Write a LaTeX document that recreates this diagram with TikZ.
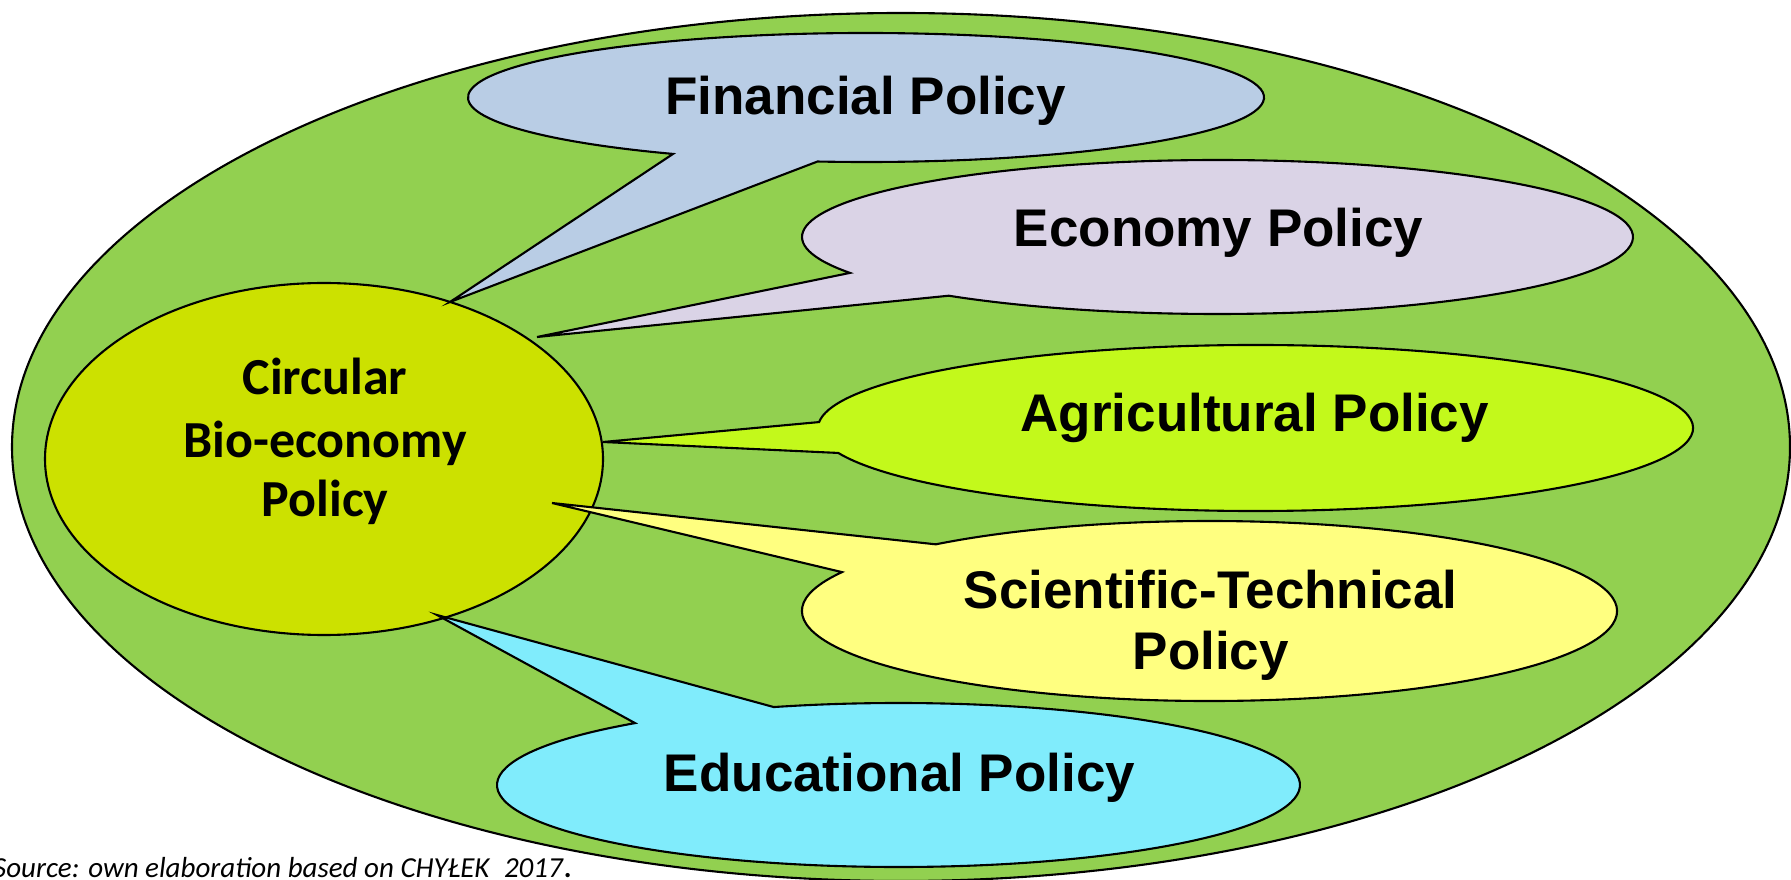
\documentclass[tikz,border=0pt]{standalone}
\usepackage{fontspec}
\setmainfont{Liberation Sans}
\newfontfamily\carlito{Carlito}
\usetikzlibrary{calc}
\definecolor{biggreen}{HTML}{92D050}
\definecolor{circcol}{HTML}{CCE100}
\definecolor{fincol}{HTML}{B9CDE5}
\definecolor{ecocol}{HTML}{DAD3E6}
\definecolor{agrcol}{HTML}{C3F91B}
\definecolor{scicol}{HTML}{FFFF80}
\definecolor{educol}{HTML}{80ECFC}
\begin{document}
\begin{tikzpicture}[x=1pt,y=1pt,
  shapeline/.style={draw=black, line width=2.1pt, line join=miter},
  lbl/.style={font=\fontsize{53}{61}\selectfont\bfseries, inner sep=0pt, anchor=base},
  clbl/.style={font=\carlito\fontsize{52}{61}\selectfont\bfseries, inner sep=0pt, anchor=base},
]
\useasboundingbox (0,0) rectangle (1791,879);
\fill[white] (0,0) rectangle (1791,879);
% outer ellipse
\path[shapeline, fill=biggreen] (901,432) ellipse[x radius=889, y radius=434];
% central ellipse
\path[shapeline, fill=circcol] (324,420) ellipse[x radius=279, y radius=176];
% Financial callout
\path[shapeline, fill=fincol] ($(866,781.5)+(-97:398 and 64.5)$) arc[start angle=-97, end angle=241, x radius=398, y radius=64.5] -- (450,577) -- cycle;
% Economy callout
\path[shapeline, fill=ecocol] ($(1217.5,642)+(-130.3:415.5 and 77)$) arc[start angle=-130.3, end angle=207.8, x radius=415.5, y radius=77] -- (537,542) -- cycle;
% Agricultural callout
\path[shapeline, fill=agrcol] ($(1255.5,451)+(197.5:437.5 and 83)$) arc[start angle=197.5, end angle=535.9, x radius=437.5, y radius=83] -- (603,437) -- cycle;
% Scientific callout
\path[shapeline, fill=scicol] ($(1209.5,268)+(154.4:407.5 and 90)$) arc[start angle=154.4, end angle=492.2, x radius=407.5, y radius=90] -- (552,376) -- cycle;
% Educational callout
\path[shapeline, fill=educol] ($(898.5,94)+(131:401.5 and 82)$) arc[start angle=131, end angle=468.1, x radius=401.5, y radius=82] -- (437,264) -- cycle;
% labels
\node[lbl] (fin) at (865.5,764) {Financial Policy};
\node[lbl] (eco) at (1218.5,632) {Economy Policy};
\node[lbl] (agr) at (1254.7,447) {Agricultural Policy};
\node[lbl] (sci1) at (1210.7,270) {Scientific-Technical};
\node[lbl] (sci2) at (1210.7,210) {Policy};
\node[lbl] (edu) at (899.5,87.4) {Educational Policy};
\node[clbl] (c1) at (325,484) {Circular};
\node[clbl] (c2) at (325,421) {Bio-economy};
\node[clbl] (c3) at (325,362) {Policy};
\node[font=\carlito\itshape\fontsize{29}{33}\selectfont, anchor=base west, inner sep=0pt] (src) at (-7,2) {Source: own elaboration based on CHYŁEK\enspace 2017\textup{\bfseries .}};
\end{tikzpicture}
\end{document}
